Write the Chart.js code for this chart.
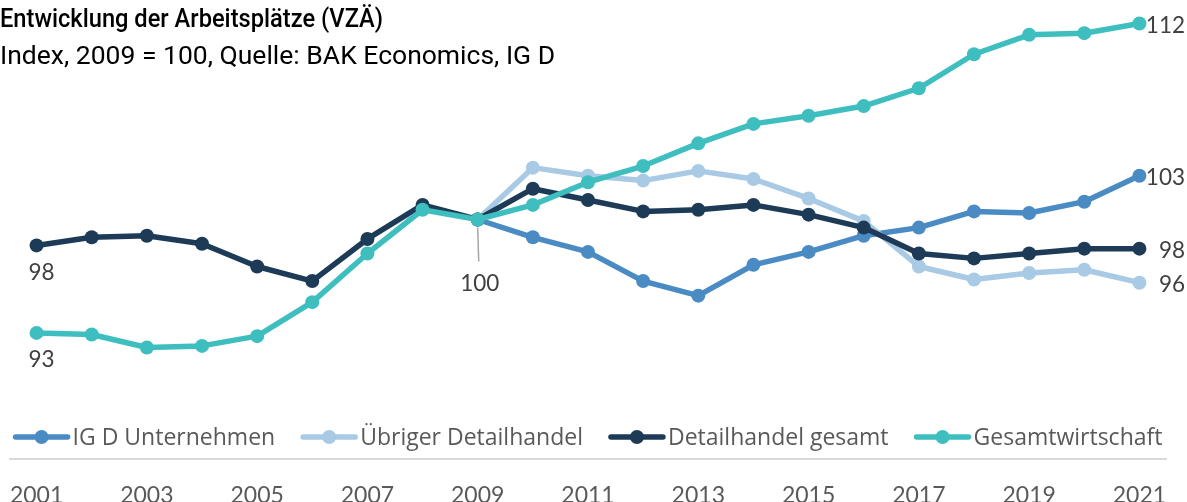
<!DOCTYPE html>
<html lang="de">
<head>
<meta charset="utf-8">
<title>Entwicklung der Arbeitsplätze (VZÄ)</title>
<script src="https://cdn.jsdelivr.net/npm/chart.js@4/dist/chart.umd.min.js"></script>
<style>
  html, body { margin: 0; padding: 0; background: #ffffff; }
  #wrap { position: relative; width: 1187px; height: 502px; }
</style>
</head>
<body>
<div id="wrap"><canvas id="chart"></canvas></div>
<script>
// Jahre (Kategorien) und Indexreihen, 2009 = 100
const years = ['2001','2002','2003','2004','2005','2006','2007','2008','2009','2010',
               '2011','2012','2013','2014','2015','2016','2017','2018','2019','2020','2021'];

const igdUnternehmen = [null, null, null, null, null, null, null, null,
  100, 98.9, 98.0, 96.2, 95.3, 97.2, 98.0, 99.0, 99.5, 100.5, 100.4, 101.1, 102.7];

const uebrigerDetailhandel = [null, null, null, null, null, null, null, null,
  100, 103.2, 102.7, 102.4, 103.0, 102.5, 101.3, 99.9, 97.1, 96.3, 96.7, 96.9, 96.1];

const detailhandelGesamt = [98.4, 98.9, 99.0, 98.5, 97.1, 96.2, 98.8, 100.9,
  100, 101.9, 101.2, 100.5, 100.6, 100.9, 100.3, 99.5, 97.9, 97.6, 97.9, 98.2, 98.2];

const gesamtwirtschaft = [93.0, 92.9, 92.1, 92.2, 92.8, 94.9, 97.9, 100.6,
  100, 100.9, 102.3, 103.3, 104.7, 105.9, 106.4, 107.0, 108.1, 110.2, 111.4, 111.5, 112.1];

const seriesNames = ['IG D Unternehmen', 'Übriger Detailhandel', 'Detailhandel gesamt', 'Gesamtwirtschaft'];

const titleText = 'Entwicklung der Arbeitsplätze (VZÄ)';
const subtitleText = 'Index, 2009 = 100, Quelle: BAK Economics, IG D';

const COLORS = ['#4a8bc4', '#a9cae4', '#1d3b57', '#3fbec0'];
const NUM_FONT = "'Lato', 'Carlito', 'Liberation Sans', sans-serif";
const TXT_FONT = "'Open Sans', 'Noto Sans', sans-serif";

function lineDataset(label, data, color, order) {
  return {
    label, data, order,
    borderColor: color,
    backgroundColor: color,
    borderWidth: 5.5,
    pointRadius: 7,
    pointHoverRadius: 7,
    pointBackgroundColor: color,
    pointBorderColor: color,
    pointBorderWidth: 0,
    tension: 0,
    spanGaps: false,
    borderCapStyle: 'round',
    borderJoinStyle: 'round'
  };
}

// Titel und Untertitel oben links
const headerPlugin = {
  id: 'header',
  afterDraw(chart) {
    const ctx = chart.ctx;
    ctx.save();
    ctx.fillStyle = '#000000';
    ctx.textAlign = 'left';
    ctx.textBaseline = 'middle';
    ctx.font = "500 26px 'Roboto', sans-serif";
    ctx.save();
    ctx.translate(0, 20);
    ctx.scale(0.91, 1);
    ctx.fillText(titleText, 0, 0);
    ctx.restore();
    ctx.font = "400 26.5px 'Roboto', sans-serif";
    ctx.fillText(subtitleText, 0, 57);
    ctx.restore();
  }
};

// Achsenlinie und Legende darüber
const legendPlugin = {
  id: 'innerLegend',
  afterDraw(chart) {
    const ctx = chart.ctx;
    const area = chart.chartArea;
    ctx.save();
    ctx.strokeStyle = '#d9d9d9';
    ctx.lineWidth = 2;
    ctx.beginPath();
    ctx.moveTo(area.left, area.bottom + 1);
    ctx.lineTo(area.right, area.bottom + 1);
    ctx.stroke();

    const y = 437;
    const lineLen = 56, textGap = 3, itemGap = 26;
    ctx.font = '23px ' + TXT_FONT;
    const items = chart.data.datasets.map(ds => ({
      label: ds.label, color: ds.borderColor, w: ctx.measureText(ds.label).width
    }));
    const total = items.reduce((s, it) => s + lineLen + textGap + it.w, 0) + itemGap * (items.length - 1);
    let x = (area.left + area.right) / 2 - total / 2;
    items.forEach(it => {
      ctx.strokeStyle = it.color;
      ctx.lineWidth = 5.5;
      ctx.lineCap = 'round';
      ctx.beginPath();
      ctx.moveTo(x + 2, y);
      ctx.lineTo(x + lineLen - 2, y);
      ctx.stroke();
      ctx.fillStyle = it.color;
      ctx.beginPath();
      ctx.arc(x + lineLen / 2, y, 7, 0, Math.PI * 2);
      ctx.fill();
      ctx.fillStyle = '#595959';
      ctx.textAlign = 'left';
      ctx.textBaseline = 'middle';
      ctx.fillText(it.label, x + lineLen + textGap, y + 1);
      x += lineLen + textGap + it.w + itemGap;
    });
    ctx.restore();
  }
};

// Wertbeschriftungen am Anfang, beim Basisjahr und am Ende der Reihen
const valueLabelPlugin = {
  id: 'valueLabels',
  afterDatasetsDraw(chart) {
    const ctx = chart.ctx;
    const last = years.length - 1;
    const base = years.indexOf('2009');
    ctx.save();
    ctx.font = '22.5px ' + NUM_FONT;
    ctx.fillStyle = '#404040';
    ctx.textBaseline = 'middle';
    const pt = (ds, i) => chart.getDatasetMeta(ds).data[i];
    const val = (ds, i) => chart.data.datasets[ds].data[i];

    // Startwerte unterhalb der ersten Punkte
    [2, 3].forEach(ds => {
      const p = pt(ds, 0);
      ctx.textAlign = 'center';
      ctx.fillText(String(Math.round(val(ds, 0))), p.x + 5, p.y + 27);
    });

    // Endwerte rechts, rechtsbündig
    [0, 1, 2, 3].forEach(ds => {
      const p = pt(ds, last);
      ctx.textAlign = 'right';
      ctx.fillText(String(Math.round(val(ds, last))), 1185, p.y + 2);
    });

    // Basisjahr mit Hinweislinie
    const p = pt(3, base);
    ctx.strokeStyle = '#a6a6a6';
    ctx.lineWidth = 1.5;
    ctx.beginPath();
    ctx.moveTo(p.x, p.y + 8);
    ctx.lineTo(p.x + 1, p.y + 42);
    ctx.stroke();
    ctx.textAlign = 'center';
    ctx.fillText(String(Math.round(val(3, base))), p.x + 2, p.y + 64);
    ctx.restore();
  }
};

new Chart(document.getElementById('chart'), {
  type: 'line',
  data: {
    labels: years,
    datasets: [
      lineDataset(seriesNames[0], igdUnternehmen, COLORS[0], 3),
      lineDataset(seriesNames[1], uebrigerDetailhandel, COLORS[1], 2),
      lineDataset(seriesNames[2], detailhandelGesamt, COLORS[2], 1),
      lineDataset(seriesNames[3], gesamtwirtschaft, COLORS[3], 0)
    ]
  },
  options: {
    responsive: true,
    maintainAspectRatio: false,
    animation: false,
    devicePixelRatio: 1,
    layout: { padding: { left: 9, right: 20, top: 10, bottom: 0 } },
    plugins: {
      legend: { display: false },
      title: { display: false },
      tooltip: { enabled: false }
    },
    scales: {
      x: {
        type: 'category',
        offset: true,
        grid: { display: false, drawTicks: false },
        border: { display: false },
        ticks: {
          autoSkip: false,
          maxRotation: 0,
          padding: 24,
          color: '#595959',
          font: { family: NUM_FONT, size: 23 },
          callback(value, index) { return index % 2 === 0 ? years[index] : ''; }
        },
        afterFit(scale) {
          scale.height = 44;
          scale.paddingLeft = 0;
          scale.paddingRight = 0;
        }
      },
      y: {
        display: false,
        min: 85.28,
        max: 112.93
      }
    }
  },
  plugins: [headerPlugin, legendPlugin, valueLabelPlugin]
});
</script>
</body>
</html>
